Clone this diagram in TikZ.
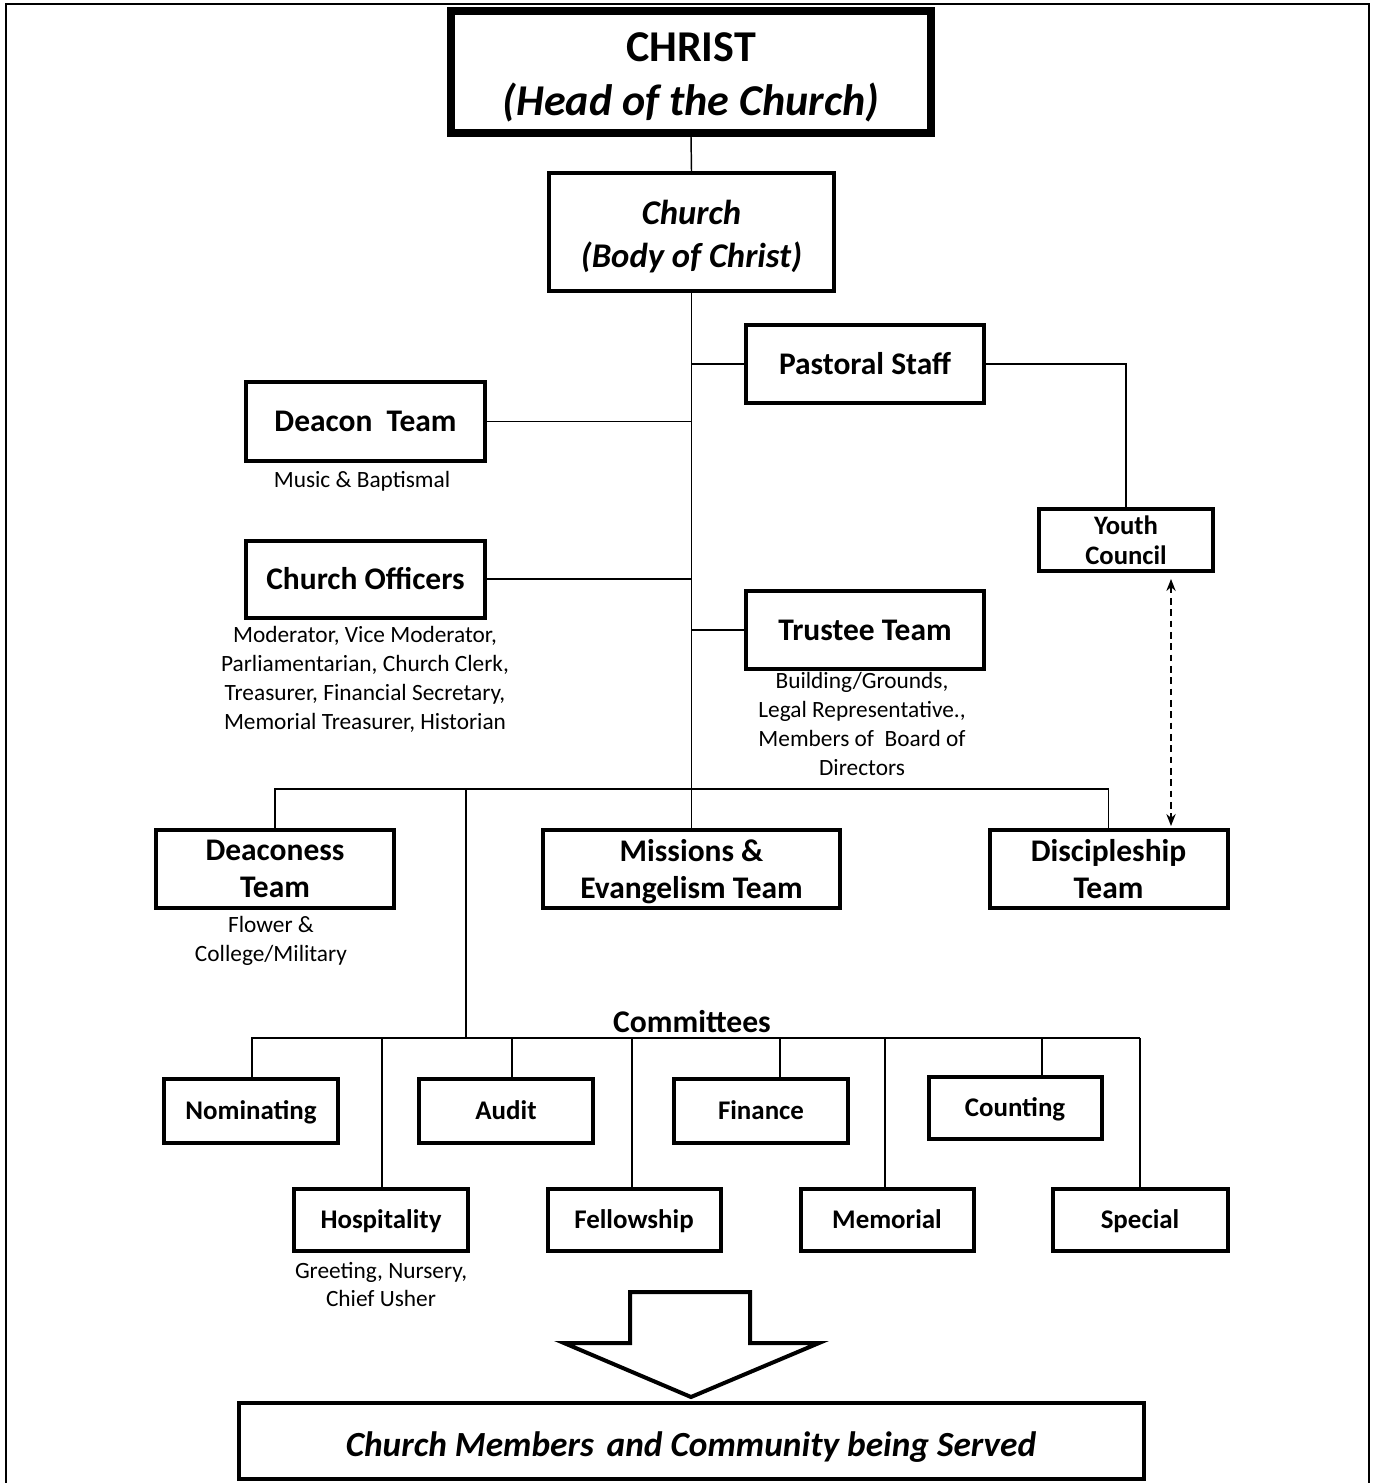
\documentclass[tikz,border=0pt]{standalone}
\usepackage{fontspec}
\setmainfont{Carlito}
\usetikzlibrary{arrows.meta}
\begin{document}
\begin{tikzpicture}[x=0.75pt,y=-0.75pt,
  boxbase/.style={draw, line width=3pt, inner sep=0pt, font=\bfseries\fontsize{23.6}{28}\selectfont},
  box/.style={boxbase, align=center},
  mbox/.style={box, text depth=0pt},
  cbox/.style={boxbase, text height=13.3pt, text depth=0pt, font=\bfseries\fontsize{20.2}{24}\selectfont},
  sz/.style 2 args={minimum width=#1*0.75pt, minimum height=#2*0.75pt},
  conn/.style={line width=1.1pt},
  sub/.style={align=center, inner sep=0pt, font=\fontsize{17.5}{21.75}\selectfont},
]
\useasboundingbox (0,0) rectangle (1372,1483);
% outer frame
\draw[line width=1.9pt] (6,1490) -- (6,4) -- (1369,4) -- (1369,1490);

% main nodes
\node[mbox, line width=6pt, sz={480}{122}, font=\bfseries\fontsize{33}{40}\selectfont] (christ) at (691,72) {\rule{0pt}{25pt}CHRIST\\\textit{(Head of the Church)}};
\node[mbox, sz={285}{118}, font=\bfseries\itshape\fontsize{26}{32}\selectfont] (church) at (691.5,232) {\rule{0pt}{21.5pt}Church\\(Body of Christ)};
\node[box, sz={238}{78}] (pastoral) at (865,364) {Pastoral Staff};
\node[box, sz={239}{78}] (deacon) at (365.5,421.5) {Deacon~~Team};
\node[box, sz={239}{77}] (officers) at (365.5,579) {Church Officers};
\node[box, sz={238}{78}] (trustee) at (865,630) {Trustee Team};
\node[box, sz={174}{62}, font=\bfseries\fontsize{20}{22.5}\selectfont] (youth) at (1126,540) {Youth\\Council};
\node[box, sz={238}{78}] (deaconess) at (275,869) {Deaconess\\Team};
\node[mbox, sz={297}{78}] (missions) at (691.5,869) {Missions \&\\Evangelism Team};
\node[box, sz={238}{78}] (disciple) at (1108.5,869) {Discipleship\\Team};

% sub texts
\node[sub] (deaconsub) at (362,481) {Music \& Baptismal};
\node[sub] (officersub) at (365,679.5) {Moderator, Vice Moderator,\\Parliamentarian, Church Clerk,\\Treasurer, Financial Secretary,\\Memorial Treasurer, Historian};
\node[sub] (trusteesub) at (862,724) {Building/Grounds,\\Legal Representative.,\\Members of~~Board of\\Directors};
\node[sub] (deaconesssub) at (271,940.5) {Flower \&\\College/Military};

% committees
\node[inner sep=0pt, font=\bfseries\fontsize{23.7}{28}\selectfont] (committees) at (692,1022) {Committees};
\node[cbox, sz={174}{64}] (nom) at (251,1111) {Nominating};
\node[cbox, sz={174}{64}] (aud) at (506,1111) {Audit};
\node[cbox, sz={174}{64}] (fin) at (761,1111) {Finance};
\node[cbox, sz={173}{62}] (cou) at (1015,1108) {Counting};
\node[cbox, sz={174}{62}] (hos) at (381,1220) {Hospitality};
\node[cbox, sz={173}{62}] (fel) at (634,1220) {Fellowship};
\node[cbox, sz={173}{62}] (mem) at (887,1220) {Memorial};
\node[cbox, sz={175}{62}] (spe) at (1140,1220) {Special};
\node[sub, font=\fontsize{17.5}{20.5}\selectfont] (hossub) at (381,1284.5) {Greeting, Nursery,\\Chief Usher};

% bottom box
\node[boxbase, sz={905}{76}, text height=23pt, text depth=0pt, font=\bfseries\itshape\fontsize{26.5}{32}\selectfont] (served) at (691,1441) {Church Members\hspace{0.36em}and Community being Served};

% block arrow
\draw[line width=3pt, line join=miter] (630,1292) -- (750,1292) -- (750,1343) -- (819,1343) -- (691,1397) -- (564,1343) -- (630,1343) -- cycle;

% connectors
\draw[conn] (christ.south) -- (church.north);
\draw[conn] (church.south) -- (missions.north);
\draw[conn] (pastoral.west) -- (pastoral.west -| church.south);
\draw[conn] (trustee.west) -- (trustee.west -| church.south);
\draw[conn] (deacon.east) -- (deacon.east -| church.south);
\draw[conn] (officers.east) -- (officers.east -| church.south);
\draw[conn] (pastoral.east) -| (youth.north);
\coordinate (dx) at (1171,0);
\draw[conn, dashed, dash pattern=on 5pt off 3.5pt, {Stealth[length=9pt,width=7pt]}-{Stealth[length=9pt,width=7pt]}] ([yshift=-4.5pt]dx |- youth.south) -- ([yshift=1.5pt]dx |- disciple.north);
\coordinate (bus) at (691,789);
\draw[conn] (deaconess.north) -- (deaconess.north |- bus) -- (disciple.north |- bus) -- (disciple.north);
\coordinate (cv) at (466,789);
\coordinate (cbus) at (0,1038);
\draw[conn] (cv) -- (cv |- cbus);
\draw[conn] (nom.north |- cbus) -- (spe.north |- cbus);
\coordinate (t1) at (252,1038);
\coordinate (t2) at (382,1038);
\coordinate (t3) at (512,1038);
\coordinate (t4) at (632,1038);
\coordinate (t5) at (780,1038);
\coordinate (t6) at (885,1038);
\coordinate (t7) at (1042,1038);
\coordinate (t8) at (1140,1038);
\draw[conn] (t1) -- (t1 |- nom.north);
\draw[conn] (t2) -- (t2 |- hos.north);
\draw[conn] (t3) -- (t3 |- aud.north);
\draw[conn] (t4) -- (t4 |- fel.north);
\draw[conn] (t5) -- (t5 |- fin.north);
\draw[conn] (t6) -- (t6 |- mem.north);
\draw[conn] (t7) -- (t7 |- cou.north);
\draw[conn] (t8) -- (t8 |- spe.north);
\end{tikzpicture}
\end{document}
